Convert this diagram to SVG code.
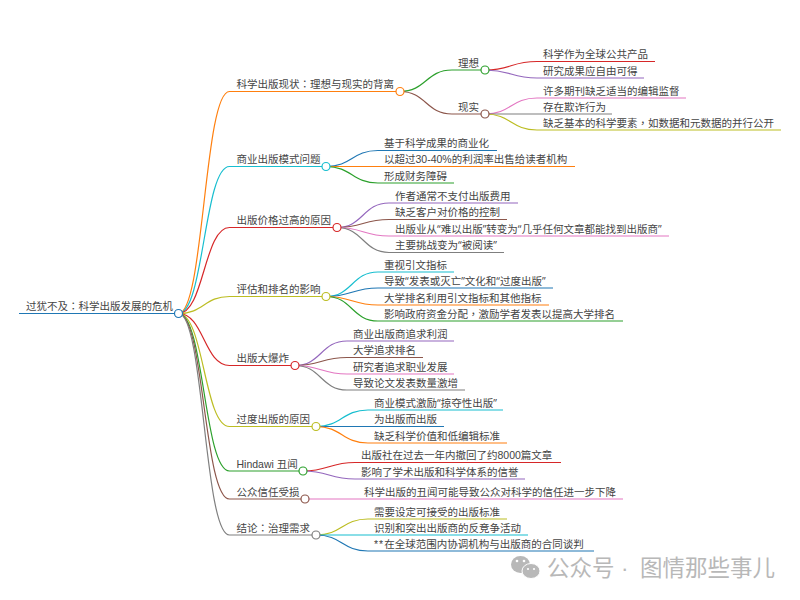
<svg xmlns="http://www.w3.org/2000/svg" width="800" height="600" viewBox="0 0 800 600">
<style>
text{font-family:"Liberation Sans","Noto Sans CJK SC",sans-serif;font-size:10.5px;fill:#444}
.t{font-family:"Noto Sans CJK TC",sans-serif}
.q{font-family:"Open Sans",sans-serif}
path{fill:none;stroke-width:1.2}
circle{fill:#fff;stroke-width:1.2}
.o{stroke:#ff7f0e}.c{stroke:#17becf}.r{stroke:#d62728}.y{stroke:#bcbd22}.b{stroke:#1f77b4}.g{stroke:#2ca02c}.p{stroke:#9467bd}.n{stroke:#8c564b}.k{stroke:#e377c2}.a{stroke:#7f7f7f}
text.wm{font-size:22.5px;fill:#b8b8b8}
</style>
<g id="connectors">
<path class="b" d="M19 313.5H178.5"/>
<path class="o" d="M178.5 313.5C204 313.5 204 91.5 229.5 91.5H400"/>
<path class="c" d="M178.5 313.5C204 313.5 204 166.5 229.5 166.5H326"/>
<path class="r" d="M178.5 313.5C204 313.5 204 227.5 229.5 227.5H337"/>
<path class="y" d="M178.5 313.5C204 313.5 204 296.5 229.5 296.5H326"/>
<path class="r" d="M178.5 313.5C204 313.5 204 365.5 229.5 365.5H295"/>
<path class="y" d="M178.5 313.5C204 313.5 204 426.5 229.5 426.5H316"/>
<path class="g" d="M178.5 313.5C204 313.5 204 471 229.5 471H303"/>
<path class="n" d="M178.5 313.5C204 313.5 204 499 229.5 499H305"/>
<path class="a" d="M178.5 313.5C204 313.5 204 535 229.5 535H316"/>
<path class="g" d="M400 91.5C426 91.5 426 70 452 70H485"/>
<path class="n" d="M400 91.5C426 91.5 426 114 452 114H485"/>
<path class="r" d="M485 70C511 70 511 61.5 537 61.5H655"/>
<path class="p" d="M485 70C511 70 511 78 537 78H644"/>
<path class="k" d="M485 114C511 114 511 98 537 98H686"/>
<path class="a" d="M485 114H612"/>
<path class="y" d="M485 114C511 114 511 130 537 130H781"/>
<path class="b" d="M326 166.5C352 166.5 352 150.5 378 150.5H497"/>
<path class="o" d="M326 166.5H575"/>
<path class="g" d="M326 166.5C352 166.5 352 183 378 183H454"/>
<path class="p" d="M337 227.5C363 227.5 363 203 389 203H518"/>
<path class="n" d="M337 227.5C363 227.5 363 219.5 389 219.5H507"/>
<path class="k" d="M337 227.5C363 227.5 363 236 389 236H669"/>
<path class="a" d="M337 227.5C363 227.5 363 252.5 389 252.5H504"/>
<path class="c" d="M326 296.5C352 296.5 352 272 378 272H454"/>
<path class="b" d="M326 296.5C352 296.5 352 288 378 288H553"/>
<path class="o" d="M326 296.5C352 296.5 352 305 378 305H549"/>
<path class="g" d="M326 296.5C352 296.5 352 321 378 321H623"/>
<path class="p" d="M295 365.5C321 365.5 321 341 347 341H454"/>
<path class="n" d="M295 365.5C321 365.5 321 357.5 347 357.5H423"/>
<path class="k" d="M295 365.5C321 365.5 321 374 347 374H454"/>
<path class="a" d="M295 365.5C321 365.5 321 390 347 390H465"/>
<path class="c" d="M316 426.5C342 426.5 342 410 368 410H503"/>
<path class="b" d="M316 426.5H444"/>
<path class="o" d="M316 426.5C342 426.5 342 443 368 443H507"/>
<path class="r" d="M303 471C329 471 329 462.5 355 462.5H561"/>
<path class="p" d="M303 471C329 471 329 479 355 479H525"/>
<path class="k" d="M305 499H623"/>
<path class="y" d="M316 535C342 535 342 519 368 519H507"/>
<path class="c" d="M316 535H528"/>
<path class="b" d="M316 535C342 535 342 551 368 551H594"/>
</g>
<g id="root"><text x="26" y="310">过犹不及<tspan class="t">：</tspan>科学出版发展的危机</text><circle class="b" cx="178.5" cy="313.5" r="4"/></g>
<g id="n1"><text x="236.5" y="88">科学出版现状<tspan class="t">：</tspan>理想与现实的背离</text><circle class="o" cx="400" cy="91.5" r="4"/></g>
<g id="n1-1"><text x="458" y="66.5">理想</text><circle class="g" cx="485" cy="70" r="4"/></g>
<g id="n1-1-1"><text x="543" y="58">科学作为全球公共产品</text></g>
<g id="n1-1-2"><text x="543" y="74.5">研究成果应自由可得</text></g>
<g id="n1-2"><text x="458" y="110.5">现实</text><circle class="n" cx="485" cy="114" r="4"/></g>
<g id="n1-2-1"><text x="543" y="94.5">许多期刊缺乏适当的编辑监督</text></g>
<g id="n1-2-2"><text x="543" y="110.5">存在欺诈行为</text></g>
<g id="n1-2-3"><text x="543" y="126.5">缺乏基本的科学要素<tspan class="t">，</tspan>如数据和元数据的并行公开</text></g>
<g id="n2"><text x="236.5" y="163">商业出版模式问题</text><circle class="c" cx="326" cy="166.5" r="4"/></g>
<g id="n2-1"><text x="384" y="147">基于科学成果的商业化</text></g>
<g id="n2-2"><text x="384" y="163">以超过30-40%的利润率出售给读者机构</text></g>
<g id="n2-3"><text x="384" y="179.5">形成财务障碍</text></g>
<g id="n3"><text x="236.5" y="224">出版价格过高的原因</text><circle class="r" cx="337" cy="227.5" r="4"/></g>
<g id="n3-1"><text x="395" y="199.5">作者通常不支付出版费用</text></g>
<g id="n3-2"><text x="395" y="216">缺乏客户对价格的控制</text></g>
<g id="n3-3"><text x="395" y="232.5">出版业从<tspan class="q">“</tspan>难以出版<tspan class="q">”</tspan>转变为<tspan class="q">“</tspan>几乎任何文章都能找到出版商<tspan class="q">”</tspan></text></g>
<g id="n3-4"><text x="395" y="249">主要挑战变为<tspan class="q">“</tspan>被阅读<tspan class="q">”</tspan></text></g>
<g id="n4"><text x="236.5" y="293">评估和排名的影响</text><circle class="y" cx="326" cy="296.5" r="4"/></g>
<g id="n4-1"><text x="384" y="268.5">重视引文指标</text></g>
<g id="n4-2"><text x="384" y="284.5">导致<tspan class="q">“</tspan>发表或灭亡<tspan class="q">”</tspan>文化和<tspan class="q">“</tspan>过度出版<tspan class="q">”</tspan></text></g>
<g id="n4-3"><text x="384" y="301.5">大学排名利用引文指标和其他指标</text></g>
<g id="n4-4"><text x="384" y="317.5">影响政府资金分配<tspan class="t">，</tspan>激励学者发表以提高大学排名</text></g>
<g id="n5"><text x="236.5" y="362">出版大爆炸</text><circle class="r" cx="295" cy="365.5" r="4"/></g>
<g id="n5-1"><text x="353" y="337.5">商业出版商追求利润</text></g>
<g id="n5-2"><text x="353" y="354">大学追求排名</text></g>
<g id="n5-3"><text x="353" y="370.5">研究者追求职业发展</text></g>
<g id="n5-4"><text x="353" y="386.5">导致论文发表数量激增</text></g>
<g id="n6"><text x="236.5" y="423">过度出版的原因</text><circle class="y" cx="316" cy="426.5" r="4"/></g>
<g id="n6-1"><text x="374" y="406.5">商业模式激励<tspan class="q">“</tspan>掠夺性出版<tspan class="q">”</tspan></text></g>
<g id="n6-2"><text x="374" y="423">为出版而出版</text></g>
<g id="n6-3"><text x="374" y="439.5">缺乏科学价值和低编辑标准</text></g>
<g id="n7"><text x="236.5" y="468">Hindawi 丑闻</text><circle class="g" cx="303" cy="471" r="4"/></g>
<g id="n7-1"><text x="361" y="459">出版社在过去一年内撤回了约8000篇文章</text></g>
<g id="n7-2"><text x="361" y="475.5">影响了学术出版和科学体系的信誉</text></g>
<g id="n8"><text x="236.5" y="496">公众信任受损</text><circle class="n" cx="305" cy="499" r="4"/></g>
<g id="n8-1"><text x="364" y="495.5">科学出版的丑闻可能导致公众对科学的信任进一步下降</text></g>
<g id="n9"><text x="236.5" y="532">结论<tspan class="t">：</tspan>治理需求</text><circle class="a" cx="316" cy="535" r="4"/></g>
<g id="n9-1"><text x="374" y="515.5">需要设定可接受的出版标准</text></g>
<g id="n9-2"><text x="374" y="531.5">识别和突出出版商的反竞争活动</text></g>
<g id="n9-3"><text x="374" y="547.5">*<tspan dx="1">*</tspan><tspan dx="1">在全球范围内协调机构与出版商的合同谈判</tspan></text></g>
<g id="watermark">
<ellipse cx="520.5" cy="564.5" rx="9.5" ry="8.5" fill="#b8b8b8"/>
<ellipse cx="531" cy="571" rx="9" ry="7.5" fill="#b8b8b8" stroke="#fff"/>
<circle cx="517" cy="561" r="1.3" style="fill:#fff;stroke:none"/>
<circle cx="524" cy="561" r="1.3" style="fill:#fff;stroke:none"/>
<circle cx="528" cy="569" r="1.1" style="fill:#fff;stroke:none"/>
<circle cx="534" cy="569" r="1.1" style="fill:#fff;stroke:none"/>
<text class="wm" x="547" y="576">公众号</text>
<text class="wm" x="621" y="576">·</text>
<text class="wm" x="640" y="576">图情那些事儿</text>
</g>
</svg>
